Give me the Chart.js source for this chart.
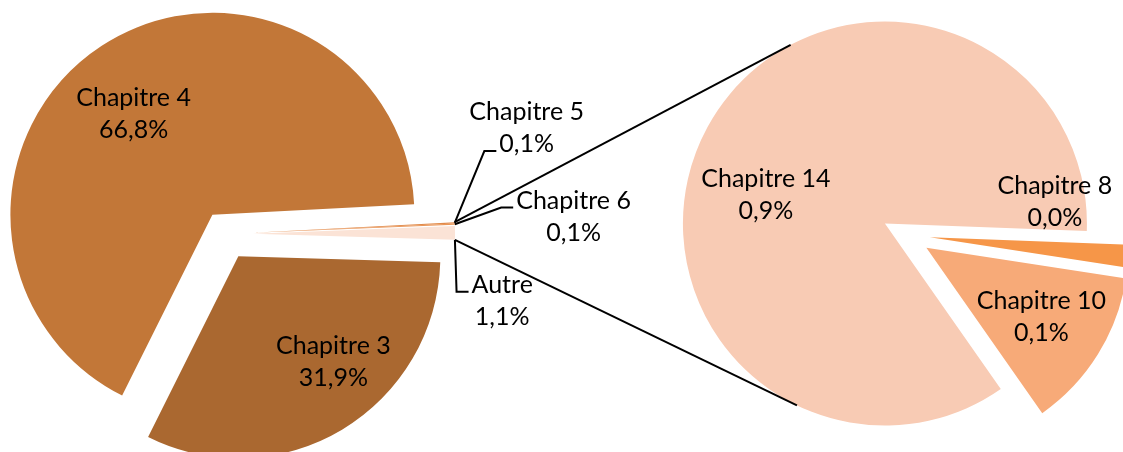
<!DOCTYPE html>
<html>
<head>
<meta charset="utf-8">
<script src="https://cdn.jsdelivr.net/npm/chart.js@4.4.1/dist/chart.umd.min.js"></script>
<style>
  html, body { margin: 0; padding: 0; background: #fff; overflow: hidden; }
  #wrap { position: relative; width: 1123px; height: 452px; }
  #wrap canvas { position: absolute; left: 0; top: 0; }
</style>
</head>
<body>
<div id="wrap">
  <canvas id="mainPie" width="1123" height="452"></canvas>
  <canvas id="subPie" width="1123" height="452"></canvas>
</div>
<script>
// répartition par chapitre (% du total)
const mainLabels = ['Chapitre 3', 'Chapitre 4', 'Chapitre 5', 'Chapitre 6', 'Autre'];
const mainValues = [31.9, 66.8, 0.1, 0.1, 1.1];
const mainColors = ['#AA6830', '#C27738', '#E08A4A', '#EA9658', '#FBE3D6'];

// détail de « Autre » (% du total)
const subLabels = ['Chapitre 14', 'Chapitre 8', 'Chapitre 10'];
const subValues = [0.93, 0.02, 0.14];
const subColors = ['#F8CBB4', '#F69648', '#F7AA78'];

const FONT = '25px Lato';
const LINE_H = 32;

function pct(v) {
  return v.toFixed(1).replace('.', ',') + '%';
}

// pushes every slice away from the centre along its middle angle
const explode = {
  id: 'explode',
  afterDatasetsUpdate(chart, args, opts) {
    chart.getDatasetMeta(0).data.forEach((arc, i) => {
      const d = opts.distances[i] || 0;
      const mid = (arc.startAngle + arc.endAngle) / 2;
      arc.x += Math.cos(mid) * d;
      arc.y += Math.sin(mid) * d;
    });
  }
};

// two-line labels (name + percentage), optionally with a leader line
const sliceLabels = {
  id: 'sliceLabels',
  afterDatasetsDraw(chart, args, opts) {
    const ctx = chart.ctx;
    const values = chart.data.datasets[0].data;
    ctx.save();
    ctx.font = FONT;
    ctx.fillStyle = '#000';
    ctx.textAlign = 'center';
    ctx.textBaseline = 'middle';
    ctx.strokeStyle = '#000';
    ctx.lineWidth = 2;
    chart.getDatasetMeta(0).data.forEach((arc, i) => {
      const p = opts.place[i];
      if (!p) return;
      const a = p.angle * Math.PI / 180;
      const cx = arc.x + Math.cos(a) * p.dist;
      const cy = arc.y + Math.sin(a) * p.dist;
      const lines = [chart.data.labels[i], pct(values[i])];
      const ys = [cy - LINE_H / 2, cy + LINE_H / 2];
      lines.forEach((t, k) => ctx.fillText(t, cx, ys[k]));
      if (p.leader) {
        const k = p.leader.line;
        const endX = cx - ctx.measureText(lines[k]).width / 2 - 3;
        const endY = ys[k] + 7;
        const ang = arc.startAngle + p.leader.t * (arc.endAngle - arc.startAngle);
        const sx = arc.x + Math.cos(ang) * arc.outerRadius;
        const sy = arc.y + Math.sin(ang) * arc.outerRadius;
        ctx.beginPath();
        ctx.moveTo(sx, sy);
        ctx.lineTo(endX - 12, endY);
        ctx.lineTo(endX, endY);
        ctx.stroke();
      }
    });
    ctx.restore();
  }
};

// lines from the small slices of the first pie to the second pie (tangents)
const connectors = {
  id: 'connectors',
  afterDatasetsDraw(chart) {
    const src = mainChart.getDatasetMeta(0).data;
    const first = src[2], last = src[src.length - 1];
    const big = chart.getDatasetMeta(0).data[0];
    const r = big.outerRadius;
    const ends = [
      [first.x + Math.cos(first.startAngle) * first.outerRadius,
       first.y + Math.sin(first.startAngle) * first.outerRadius, 1],
      [last.x + Math.cos(last.endAngle) * last.outerRadius,
       last.y + Math.sin(last.endAngle) * last.outerRadius, -1]
    ];
    const ctx = chart.ctx;
    ctx.save();
    ctx.strokeStyle = '#000';
    ctx.lineWidth = 2;
    ends.forEach(([px, py, side]) => {
      const dx = px - big.x, dy = py - big.y;
      const d = Math.hypot(dx, dy);
      const t = Math.atan2(dy, dx) + side * Math.acos(r / d);
      ctx.beginPath();
      ctx.moveTo(px, py);
      ctx.lineTo(big.x + Math.cos(t) * r, big.y + Math.sin(t) * r);
      ctx.stroke();
    });
    ctx.restore();
  }
};

function pieOptions(rotation, padding, distances, place) {
  return {
    responsive: false,
    animation: false,
    events: [],
    rotation: rotation,
    radius: 202,
    layout: { padding: padding },
    plugins: {
      legend: { display: false },
      tooltip: { enabled: false },
      explode: { distances: distances },
      sliceLabels: { place: place }
    }
  };
}

const mainChart = new Chart(document.getElementById('mainPie'), {
  type: 'pie',
  data: {
    labels: mainLabels,
    datasets: [{ data: mainValues, backgroundColor: mainColors, borderWidth: 0 }]
  },
  options: pieOptions(91.7, { left: 0, right: 673, top: 16, bottom: 0 },
    [26, 23, 28, 28, 28],
    [
      { dist: 142, angle: 48 },
      { dist: 128, angle: 232 },
      { dist: 293, angle: -20.9, leader: { line: 1, t: 0.5 } },
      { dist: 321, angle: -2.9, leader: { line: 0, t: 0.5 } },
      { dist: 258, angle: 15, leader: { line: 0, t: 1 } }
    ]),
  plugins: [explode, sliceLabels]
});

const subChart = new Chart(document.getElementById('subPie'), {
  type: 'pie',
  data: {
    labels: subLabels,
    datasets: [{ data: subValues, backgroundColor: subColors, borderWidth: 0 }]
  },
  options: pieOptions(145, { left: 689, right: 0, top: 18, bottom: 0 },
    [24, 24, 24],
    [
      { dist: 122.5, angle: 193.7 },
      { dist: 130, angle: -16 },
      { dist: 134, angle: 30.9 }
    ]),
  plugins: [explode, sliceLabels, connectors]
});
</script>
</body>
</html>
